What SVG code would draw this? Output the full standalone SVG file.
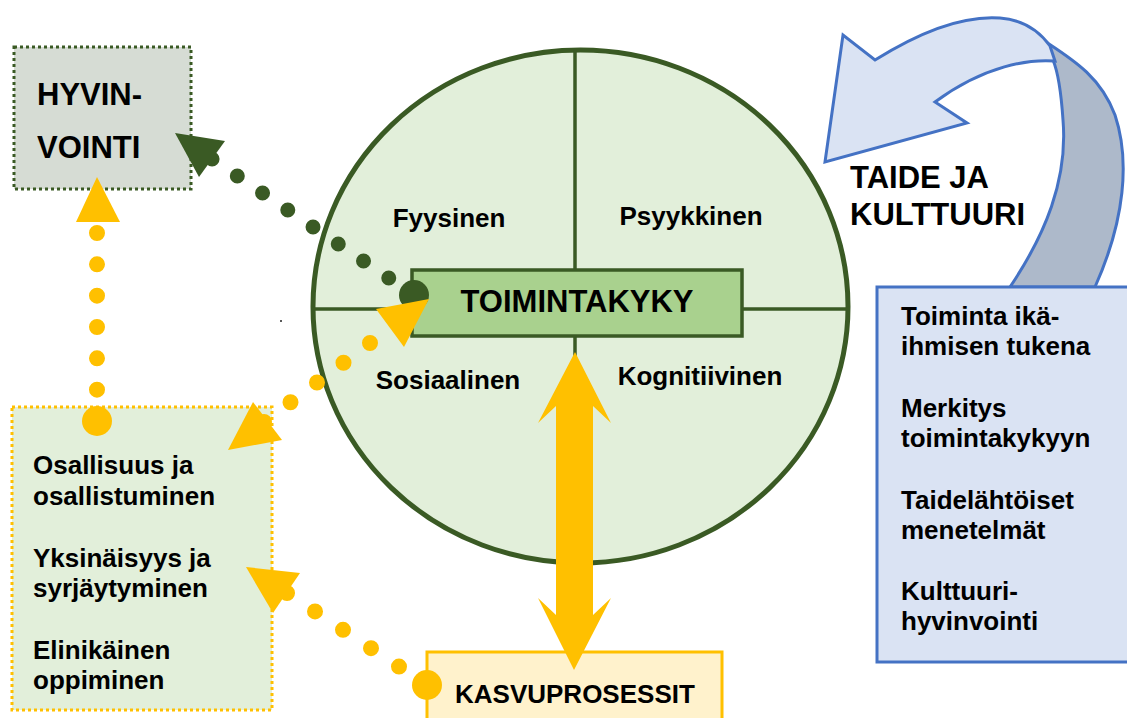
<svg xmlns="http://www.w3.org/2000/svg" width="1127" height="718" viewBox="0 0 1127 718">
<style>
text{font-family:"Liberation Sans",Arial,sans-serif;font-weight:bold;fill:#000}
.t26{font-size:26px}
.t31{font-size:31px}
.dg{stroke:#3a5a24}
.yel{fill:#ffc000}
.ydots{stroke:#ffc000;stroke-width:16;stroke-linecap:round;fill:none}
</style>
<rect width="1127" height="718" fill="#fff"/>
<g id="taide-arrow">
<path d="M1043,40 C1070,58 1100,75 1115,115 C1130,160 1125,220 1095,287 L1010,287 C1045,235 1068,180 1063,120 C1061,90 1058,72 1053,60 Z" fill="#adb9ca" stroke="#4472c4" stroke-width="3" stroke-linejoin="round"/>
<path d="M825,162 L843,35 L875,60 C915,35 960,15 1000,18 C1025,20 1040,32 1050,46 L1055,61 C1030,59 985,65 935,102 L967,123 Z" fill="#dae3f3" stroke="#4472c4" stroke-width="3" stroke-linejoin="miter"/>
<text class="t31" x="850" y="188">TAIDE JA</text>
<text class="t31" x="850" y="225">KULTTUURI</text>
</g>
<g id="taide-box">
<rect x="877" y="287" width="262" height="375" fill="#dae3f3" stroke="#4472c4" stroke-width="3"/>
<text class="t26" x="901" y="325">Toiminta ikä-</text>
<text class="t26" x="901" y="355">ihmisen tukena</text>
<text class="t26" x="901" y="417">Merkitys</text>
<text class="t26" x="901" y="447">toimintakykyyn</text>
<text class="t26" x="901" y="509">Taidelähtöiset</text>
<text class="t26" x="901" y="539">menetelmät</text>
<text class="t26" x="901" y="600">Kulttuuri-</text>
<text class="t26" x="901" y="630">hyvinvointi</text>
</g>
<g id="hyvinvointi">
<rect x="14" y="47" width="177" height="142" fill="#d6dcd4" stroke="#3a5a24" stroke-width="3" stroke-dasharray="3 3"/>
<text class="t31" x="37" y="105">HYVIN-</text>
<text class="t31" x="37" y="158">VOINTI</text>
</g>
<g id="osallisuus">
<rect x="12" y="407" width="260" height="303" fill="#e2efda" stroke="#ffc000" stroke-width="3" stroke-dasharray="3 3"/>
<text class="t26" x="33" y="474">Osallisuus ja</text>
<text class="t26" x="33" y="505">osallistuminen</text>
<text class="t26" x="33" y="567">Yksinäisyys ja</text>
<text class="t26" x="33" y="597">syrjäytyminen</text>
<text class="t26" x="33" y="659">Elinikäinen</text>
<text class="t26" x="33" y="689">oppiminen</text>
</g>
<g id="toimintakyky-circle">
<ellipse cx="580.5" cy="306.5" rx="267.5" ry="256.5" fill="#e2efda" stroke="#3a5a24" stroke-width="5"/>
<line x1="575" y1="50" x2="575" y2="563" stroke="#3a5a24" stroke-width="3.5"/>
<line x1="313" y1="309" x2="848" y2="309" stroke="#3a5a24" stroke-width="3.5"/>
<text class="t26" x="449" y="227" text-anchor="middle">Fyysinen</text>
<text class="t26" x="691" y="225" text-anchor="middle">Psyykkinen</text>
<text class="t26" x="448" y="389" text-anchor="middle">Sosiaalinen</text>
<text class="t26" x="700" y="385" text-anchor="middle">Kognitiivinen</text>
</g>
<g id="toimintakyky">
<rect x="412" y="270" width="330" height="66" fill="#a9d18e" stroke="#3a5a24" stroke-width="3.5"/>
<text class="t31" x="577" y="312" text-anchor="middle">TOIMINTAKYKY</text>
</g>
<g id="kasvuprosessit">
<rect x="427" y="652" width="295" height="80" fill="#fff2cc" stroke="#ffc000" stroke-width="3"/>
<text class="t26" x="455" y="703">KASVUPROSESSIT</text>
</g>
<g id="connectors">
<line x1="414" y1="295" x2="212" y2="159" stroke="#3a5a24" stroke-width="15" stroke-linecap="round" stroke-dasharray="0 30.43"/>
<circle cx="414" cy="295" r="15" fill="#3a5a24"/>
<polygon points="175,133 225,141 199,177" fill="#3a5a24"/>
<line class="ydots" x1="97" y1="421" x2="97" y2="233" stroke-dasharray="0 31.33"/>
<circle cx="97" cy="421" r="15" class="yel"/>
<polygon points="97,177 76,222 120,222" class="yel"/>
<line class="ydots" x1="370" y1="343" x2="264" y2="422" stroke-dasharray="0 33.05"/>
<polygon points="429,299 376,309 404,347" class="yel"/>
<polygon points="228,450 253,402 282,440" class="yel"/>
<line class="ydots" x1="427" y1="685" x2="287" y2="593" stroke-dasharray="0 33.5"/>
<circle cx="427" cy="685" r="15" class="yel"/>
<polygon points="246,567 300,573 273,613" class="yel"/>
<polygon points="575,352 611,423 593,406 593,615 611,598 574,670 538,598 556,615 556,406 538,423" class="yel"/>
</g>
<circle cx="281" cy="321" r="1" fill="#222"/>
</svg>
